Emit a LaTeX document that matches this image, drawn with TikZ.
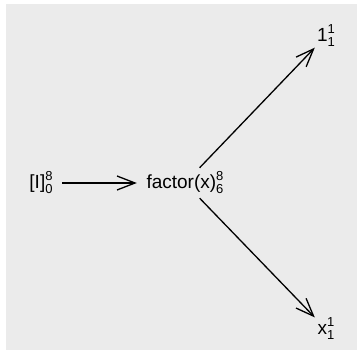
\documentclass[tikz,border=0pt]{standalone}
\usepackage{fontspec}
\setmainfont{Liberation Sans}
\usetikzlibrary{arrows.meta}
\newcommand\scrfont{\fontsize{13}{13}\selectfont}
\newcommand\supsb[2]{\rlap{\raisebox{8pt}{\scrfont #1}}\raisebox{-5pt}{\scrfont #2}}
\tikzset{
  lbl/.style={inner sep=0pt, font=\fontsize{19}{21}\selectfont, text=black},
  edge/.style={line width=1.3pt, -{Straight Barb[length=18pt,width=14pt,line width=1.3pt]}}
}
\begin{document}
\begin{tikzpicture}[x=1pt,y=1pt]
\useasboundingbox (0,0) rectangle (357,360);
\fill[white] (0,0) rectangle (357,360);
\fill[black!8] (6,10) rectangle (357,356);
\node[lbl, minimum width=42pt, minimum height=30pt] (I) at (41,177) {[I]\supsb{8}{0}};
\node[lbl, minimum width=96pt, minimum height=30pt] (F) at (185,177) {factor(x)\supsb{8}{6}};
\node[lbl, minimum width=22pt, minimum height=24pt] (one) at (326,324) {1\supsb{1}{1}};
\node[lbl, minimum width=22pt, minimum height=24pt] (x) at (326,31) {x\supsb{1}{1}};
\draw[edge] (I) -- (F);
\draw[edge] (F) -- (one);
\draw[edge] (F) -- (x);
\end{tikzpicture}
\end{document}
